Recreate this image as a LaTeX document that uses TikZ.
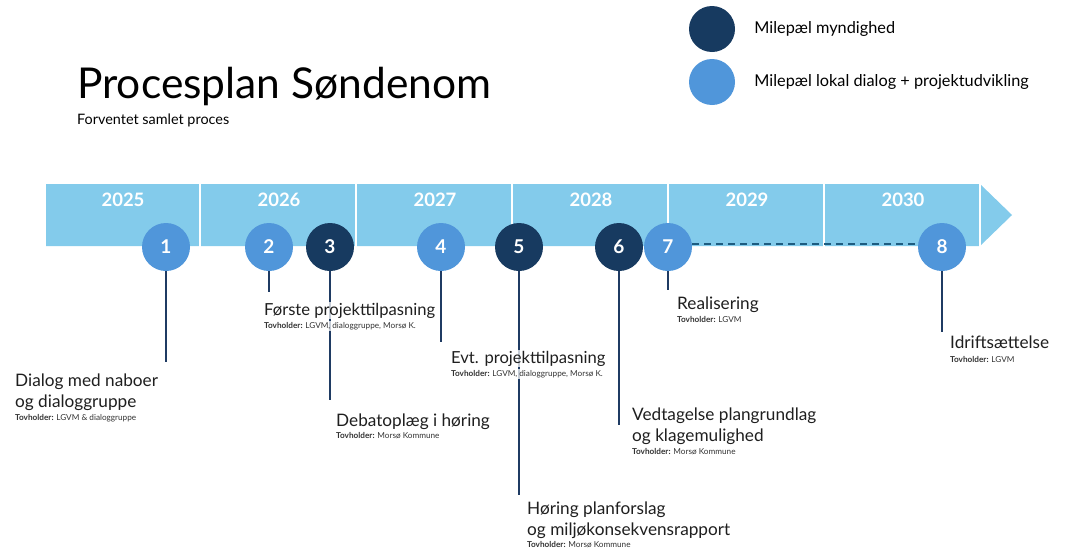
\documentclass[tikz,border=0pt]{standalone}
\usepackage{fontspec}
\setmainfont{Lato}
\usetikzlibrary{positioning}
\definecolor{bandblue}{HTML}{83CBEB}
\definecolor{darkmile}{HTML}{173A60}
\definecolor{lightmile}{HTML}{5096DA}
\definecolor{stemblue}{HTML}{1F3B63}
\definecolor{dashblue}{HTML}{1D5C80}
\newcommand{\tovfont}{\fontsize{8.2}{9}\selectfont}
\newcommand{\labfont}{\fontsize{17.2}{21}\selectfont}

\begin{document}
\begin{tikzpicture}[x=1pt,y=-1pt,
    mile/.style={circle,minimum size=48pt,inner sep=0pt,text=white,font=\fontsize{19}{19}\selectfont\bfseries},
    myndighed/.style={mile,fill=darkmile},
    lokal/.style={mile,fill=lightmile},
    year/.style={text=white,font=\fontsize{18.5}{18.5}\selectfont\bfseries},
    stem/.style={stemblue,line width=1.5pt},
    milelabel/.style={anchor=base west,align=left,inner sep=1pt,fill=white,fill opacity=0.75,text opacity=1,text=black!88,font=\labfont},
    tov/.style={anchor=base west,inner sep=1pt,fill=white,fill opacity=0.75,text opacity=1,text=black!80,font=\tovfont}]
    \useasboundingbox (0,0) rectangle (1073,549);

    % title and legend
    \node[anchor=base west,inner sep=0pt,font=\fontsize{42.5}{42.5}\selectfont] (title) at (77,98) {Procesplan Søndenom};
    \node[anchor=base west,inner sep=0pt,font=\fontsize{14.4}{14.4}\selectfont] (subtitle) at (77,124) {Forventet samlet proces};
    \node[myndighed,minimum size=46pt] (leg1) at (712,29) {};
    \node[lokal,minimum size=46pt] (leg2) at (712,82) {};
    \node[right=19pt of leg1,inner sep=0pt,font=\fontsize{16.3}{16.3}\selectfont] (legtext1) {Milepæl myndighed};
    \node[right=19pt of leg2,inner sep=0pt,font=\fontsize{16.3}{16.3}\selectfont] (legtext2) {Milepæl lokal dialog + projektudvikling};

    % timeline band
    \fill[bandblue] (46,184) -- (980,184) -- (1012,215) -- (980,246) -- (46,246) -- cycle;
    \foreach \x in {200,356,...,980}
        \draw[white,line width=2pt] (\x,183) -- (\x,247);
    \foreach \yr [count=\i] in {2025,...,2030}
        \node[year] (y\yr) at ({123+156*(\i-1)},200) {\yr};

    % milestones
    \node[lokal] (m1) at (166,247) {1};
    \node[lokal] (m2) at (269,247) {2};
    \node[myndighed] (m3) at (330,247) {3};
    \node[lokal] (m4) at (441,247) {4};
    \node[myndighed] (m5) at (519,247) {5};
    \node[myndighed] (m6) at (619,247) {6};
    \node[lokal] (m7) at (668,247) {7};
    \node[lokal] (m8) at (942,247) {8};

    \coordinate (e1) at (166,362);
    \coordinate (e2) at (269,292);
    \coordinate (e3) at (330,400);
    \coordinate (e4) at (441,342);
    \coordinate (e5) at (519,495);
    \coordinate (e6) at (619,425);
    \coordinate (e7) at (668,290);
    \coordinate (e8) at (942,332);
    \foreach \i in {1,...,8}
        \draw[stem] (m\i.south) -- (e\i);
    \draw[dashblue,line width=2.5pt,dash pattern=on 7pt off 5pt] ([yshift=3pt]m7.east) -- ([yshift=3pt]m8.west);

    % labels
    \node[milelabel] (l1) at (14,407) {Dialog med naboer\\og dialoggruppe};
    \node[tov] (t1) at ([yshift=-13pt]l1.base west) {\textbf{Tovholder:} LGVM \& dialoggruppe};
    \node[milelabel,font=\fontsize{16.6}{21}\selectfont] (l2) at (263,315) {Første projekttilpasning};
    \node[tov] (t2) at ([yshift=-13pt]l2.base west) {\textbf{Tovholder:} LGVM, dialoggruppe, Morsø K.};
    \node[milelabel] (l3) at (335,426) {Debatoplæg i høring};
    \node[tov] (t3) at ([yshift=-12pt]l3.base west) {\textbf{Tovholder:} Morsø Kommune};
    \node[milelabel,font=\fontsize{16.6}{21}\selectfont] (l4) at (450,363) {Evt. projekttilpasning};
    \node[tov] (t4) at ([yshift=-13pt]l4.base west) {\textbf{Tovholder:} LGVM, dialoggruppe, Morsø K.};
    \node[milelabel] (l5) at (526,535) {Høring planforslag\\og miljøkonsekvensrapport};
    \node[tov] (t5) at ([yshift=-12pt]l5.base west) {\textbf{Tovholder:} Morsø Kommune};
    \node[milelabel] (l6) at (631,441) {Vedtagelse plangrundlag\\og klagemulighed};
    \node[tov] (t6) at ([yshift=-13pt]l6.base west) {\textbf{Tovholder:} Morsø Kommune};
    \node[milelabel] (l7) at (676,309) {Realisering};
    \node[tov] (t7) at ([yshift=-13pt]l7.base west) {\textbf{Tovholder:} LGVM};
    \node[milelabel] (l8) at (949,348) {Idriftsættelse};
    \node[tov] (t8) at ([yshift=-14pt]l8.base west) {\textbf{Tovholder:} LGVM};
\end{tikzpicture}
\end{document}
